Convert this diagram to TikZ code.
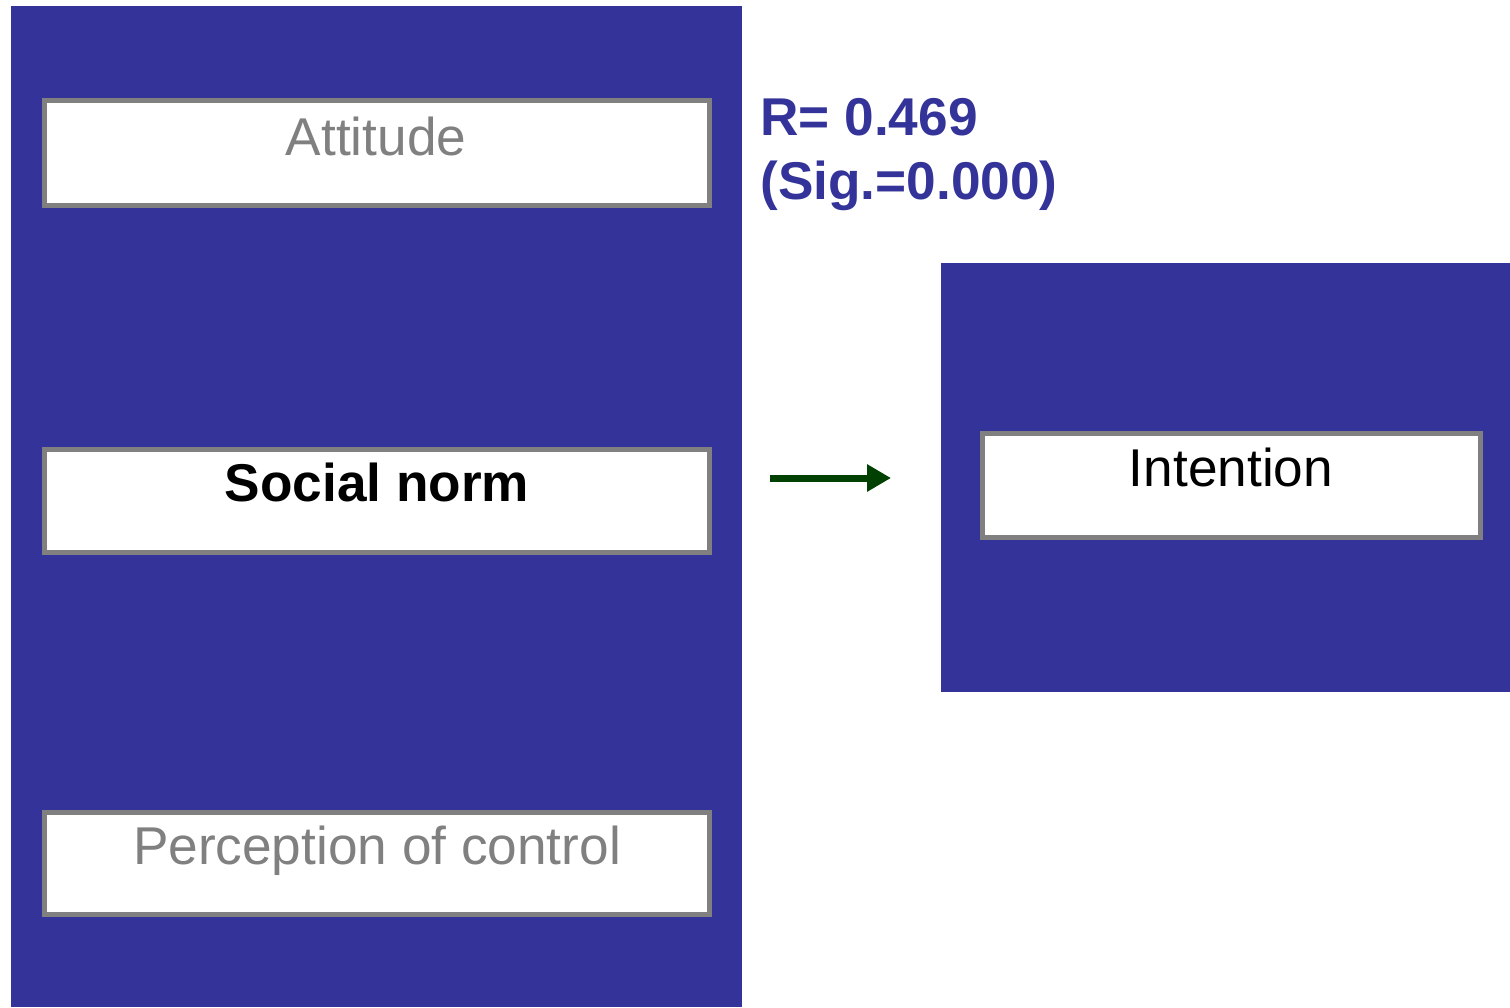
\documentclass[tikz,border=0pt]{standalone}
\usepackage{fontspec}
\setmainfont{Liberation Sans}
\usetikzlibrary{arrows.meta}
\definecolor{panelblue}{HTML}{333399}
\definecolor{boxgray}{HTML}{808080}
\definecolor{arrowgreen}{HTML}{004000}
\begin{document}
\begin{tikzpicture}[x=0.5pt,y=-0.5pt,
  panel/.style={fill=panelblue,draw=none},
  factorbox/.style={fill=white,draw=boxgray,line width=2.5pt},
  lbl/.style={anchor=base,inner sep=0pt,font=\fontsize{26.6}{31}\selectfont},
  stat/.style={anchor=base west,inner sep=0pt,text=panelblue,font=\fontsize{26.6}{31}\selectfont\bfseries}]
\useasboundingbox (0,0) rectangle (1510,1007);
% panels
\fill[panel] (11,6) rectangle (742,1007);
\fill[panel] (941,263) rectangle (1510,692);
% boxes
\draw[factorbox] (44,100) rectangle (709,205);
\node[lbl,text=boxgray] (att) at (376,155) {Attitude};
\draw[factorbox] (44,449) rectangle (709,552);
\node[lbl,font=\fontsize{26.6}{31}\selectfont\bfseries] (soc) at (377,501) {Social norm};
\draw[factorbox] (44,812) rectangle (709,914);
\node[lbl,text=boxgray] (pc) at (377,864) {Perception of control};
\draw[factorbox] (982,433) rectangle (1480,537);
\node[lbl] (int) at (1231,486) {Intention};
% stats
\node[stat] (r) at (760,135) {R= 0.469};
\node[stat] (sig) at (760,199) {(Sig.=0.000)};
% arrow
\coordinate (a1) at (770,478);
\coordinate (a2) at (891,478);
\draw[arrowgreen,line width=3.5pt,-{Triangle[length=12pt,width=13pt]}] (a1) -- (a2);
\end{tikzpicture}
\end{document}
